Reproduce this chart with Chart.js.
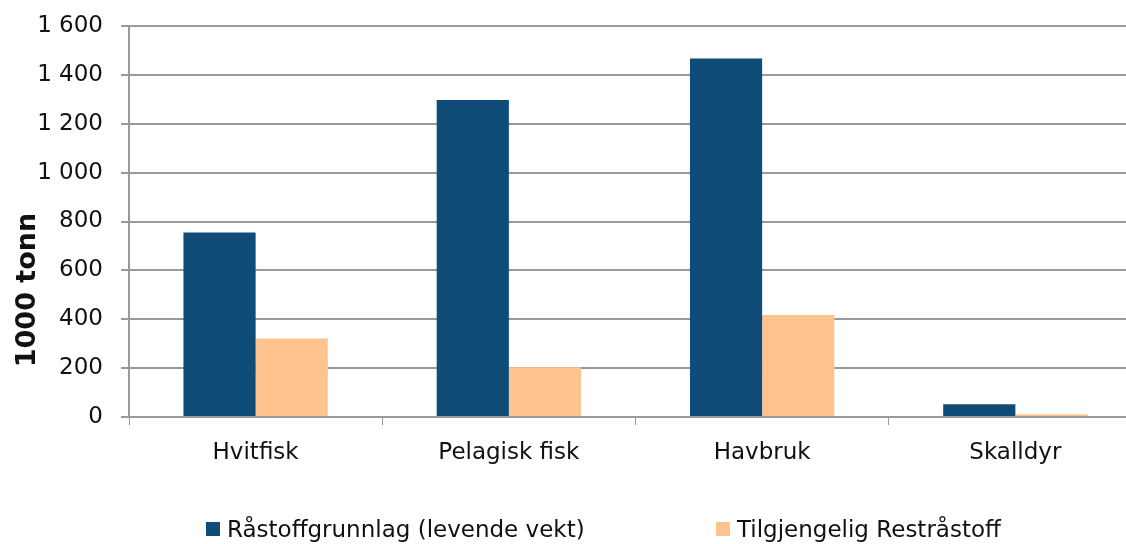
<!DOCTYPE html>
<html>
<head>
<meta charset="utf-8">
<script src="https://cdn.jsdelivr.net/npm/chart.js@4"></script>
<style>
  html, body { margin: 0; padding: 0; background: #fff; overflow: hidden; }
  #wrap { position: relative; width: 1142px; height: 544px; }
  #legend { position: absolute; top: 516px; left: 0; width: 1142px; height: 30px;
            font-family: "DejaVu Sans", sans-serif; font-size: 23px; color: #111; }
  .item { position: absolute; top: 0; display: flex; align-items: center; white-space: nowrap; }
  .box { width: 14px; height: 14px; margin-right: 7px; }
</style>
</head>
<body>
<div id="wrap">
  <canvas id="chart" width="1142" height="544"></canvas>
  <div id="legend"></div>
</div>
<script>
// Data
const categories = ['Hvitfisk', 'Pelagisk fisk', 'Havbruk', 'Skalldyr'];
const seriesNames = ['Råstoffgrunnlag (levende vekt)', 'Tilgjengelig Restråstoff'];
const rawMaterial = [755, 1297, 1467, 52];
const residual = [321, 204, 417, 11];
const yTicks = [0, 200, 400, 600, 800, 1000, 1200, 1400, 1600];

const colors = ['#0F4D78', '#FEC38F'];
const gridColor = '#999999';
const font = 'DejaVu Sans';

// Format numbers with space as thousands separator
function fmt(v) {
    return String(v).replace(/\B(?=(\d{3})+(?!\d))/g, ' ');
}

// Y-axis title drawn by hand (it sits below the axis centre in the reference)
const yTitle = {
    id: 'yTitle',
    afterDraw(chart) {
        const ctx = chart.ctx;
        ctx.save();
        ctx.translate(28, 290);
        ctx.rotate(-Math.PI / 2);
        ctx.font = 'bold 27px "DejaVu Sans"';
        ctx.fillStyle = '#111';
        ctx.textAlign = 'center';
        ctx.textBaseline = 'middle';
        ctx.fillText('1000 tonn', 0, 0);
        ctx.restore();
    }
};

const chart = new Chart(document.getElementById('chart'), {
    type: 'bar',
    data: {
        labels: categories,
        datasets: [
            { label: seriesNames[0], data: rawMaterial, backgroundColor: colors[0] },
            { label: seriesNames[1], data: residual, backgroundColor: colors[1] }
        ]
    },
    options: {
        responsive: false,
        animation: false,
        layout: { padding: { left: 0, right: 0, top: 26, bottom: 77 } },
        datasets: { bar: { categoryPercentage: 0.57, barPercentage: 1 } },
        plugins: {
            legend: { display: false },
            tooltip: { enabled: false }
        },
        scales: {
            x: {
                afterFit(scale) { scale.height = 50; },
                grid: { offset: true, drawOnChartArea: false, color: gridColor, tickLength: 8 },
                border: { color: gridColor, width: 2 },
                ticks: { color: '#111', font: { family: font, size: 23 }, padding: 14 }
            },
            y: {
                min: 0,
                max: 1600,
                afterFit(scale) {
                    scale.width = 129;
                    scale.paddingTop = 12;
                    scale.paddingBottom = 12;
                },
                afterBuildTicks(scale) { scale.ticks = yTicks.map(v => ({ value: v })); },
                grid: { color: gridColor, lineWidth: 2, tickLength: 8 },
                border: { color: gridColor, width: 2 },
                ticks: {
                    color: '#111',
                    font: { family: font, size: 23 },
                    padding: 18,
                    callback: v => fmt(v)
                }
            }
        }
    },
    plugins: [yTitle]
});

// HTML legend
const legendPos = [206, 716];
const legend = document.getElementById('legend');
seriesNames.forEach((name, i) => {
    const item = document.createElement('div');
    item.className = 'item';
    item.style.left = legendPos[i] + 'px';
    item.innerHTML = `<span class="box" style="background:${colors[i]}"></span><span>${name}</span>`;
    legend.appendChild(item);
});
</script>
</body>
</html>
